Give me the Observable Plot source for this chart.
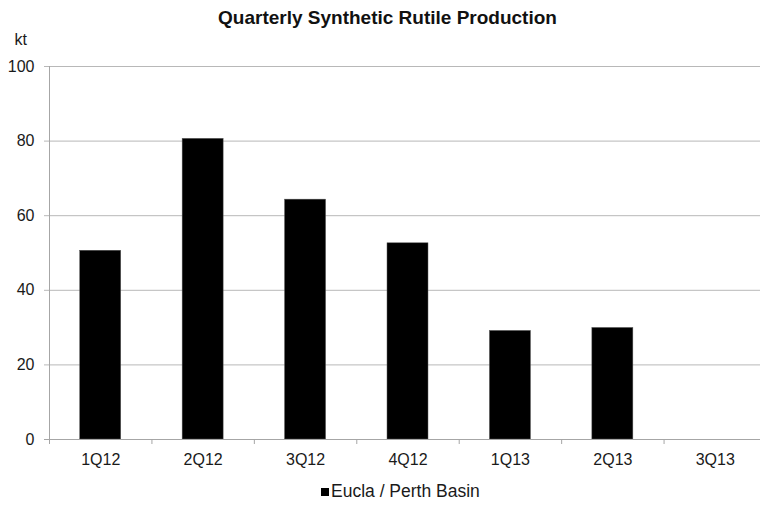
<!DOCTYPE html>
<html>
<head>
<meta charset="utf-8">
<script src="https://cdn.jsdelivr.net/npm/d3@7"></script>
<script src="https://cdn.jsdelivr.net/npm/@observablehq/plot@0.6"></script>
<style>
  html, body { margin: 0; padding: 0; background: #fff; overflow: hidden; }
  body { width: 760px; height: 505px; font-family: Arial, "Liberation Sans", sans-serif; color: #1a1a1a; }
  #title { height: 33px; line-height: 35px; text-align: center; font-weight: bold; font-size: 19px; color: #111; padding-left: 15px; box-sizing: border-box; white-space: nowrap; }
  #legend { height: 27px; line-height: 27px; font-size: 17.5px; padding-left: 321px; box-sizing: border-box; white-space: nowrap; }
  #legend .swatch { display: inline-block; width: 8px; height: 8px; background: #000; margin-right: 2px; vertical-align: 1px; }
  svg text { font-family: Arial, "Liberation Sans", sans-serif; }
</style>
</head>
<body>
<div id="title">Quarterly Synthetic Rutile Production</div>
<div id="chart"></div>
<div id="legend"><span class="swatch"></span><span id="series"></span></div>
<script>
// Quarterly synthetic rutile output, Eucla / Perth Basin (kt)
const quarters = ["1Q12", "2Q12", "3Q12", "4Q12", "1Q13", "2Q13", "3Q13"];
const production = [50.6, 80.6, 64.3, 52.6, 29.1, 29.9, null];
const yTicks = [0, 20, 40, 60, 80, 100];
const seriesName = "Eucla / Perth Basin";
const unitLabel = "kt";

const rows = quarters.map((q, i) => ({quarter: q, index: i, value: production[i]}))
  .filter(d => d.value != null);

// Category slots are 1 unit wide on a linear x scale; bars fill the middle 40%.
const centers = quarters.map((q, i) => i + 0.5);
const bounds = d3.range(quarters.length + 1);

const chart = Plot.plot({
  width: 760,
  height: 445,
  marginLeft: 49,
  marginRight: -6,
  marginTop: 33,
  marginBottom: 39,
  style: {fontSize: "16px", fontFamily: "Arial, 'Liberation Sans', sans-serif", color: "#1a1a1a", overflow: "visible"},
  x: {domain: [0, quarters.length], axis: null},
  y: {domain: [0, 100], axis: null},
  marks: [
    // horizontal gridlines, extended 5px left as tick marks
    Plot.ruleY(yTicks.filter(t => t > 0), {stroke: "#b8b8b8", strokeWidth: 1, x1: 0, x2: quarters.length, insetLeft: -5}),
    // y axis line
    Plot.ruleX([0], {stroke: "#a6a6a6", strokeWidth: 1}),
    // bars
    Plot.rectY(rows, {x1: d => d.index + 0.3, x2: d => d.index + 0.7, y: "value", fill: "#000", stroke: "#555", strokeWidth: 0.5}),
    // x axis line (with left tick)
    Plot.ruleY([0], {stroke: "#a6a6a6", strokeWidth: 1, insetLeft: -5}),
    // category boundary ticks
    Plot.axisX({ticks: bounds, tickSize: 5, tickFormat: () => "", stroke: "#a6a6a6", label: null}),
    // category labels
    Plot.axisX({ticks: centers, tickSize: 0, tickPadding: 14, tickFormat: d => quarters[Math.floor(d)], fill: "#1a1a1a", label: null}),
    // value labels
    Plot.axisY({ticks: yTicks, tickSize: 0, tickPadding: 15, tickFormat: d => String(d), fill: "#1a1a1a", label: null}),
    // unit label
    Plot.text([unitLabel], {frameAnchor: "top-left", dx: -35, dy: -33, fill: "#1a1a1a", fontSize: 16})
  ]
});
document.getElementById("chart").appendChild(chart);
document.getElementById("series").textContent = seriesName;
</script>
</body>
</html>
